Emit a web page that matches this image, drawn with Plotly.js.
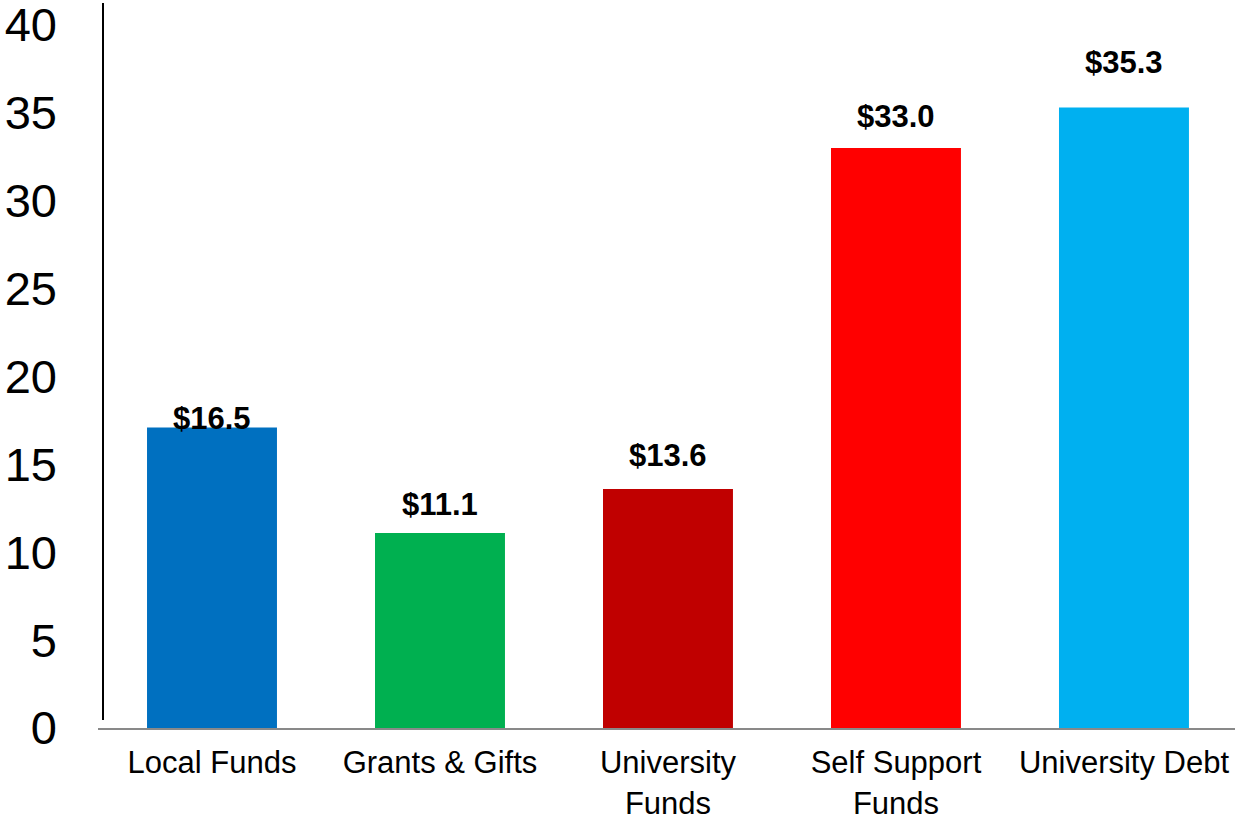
<!DOCTYPE html>
<html>
<head>
<meta charset="utf-8">
<script src="https://cdn.plot.ly/plotly-3.0.1.min.js"></script>
<style>
  html, body { margin: 0; padding: 0; background: #ffffff; }
  #chart { width: 1235px; height: 821px; }
</style>
</head>
<body>
<div id="chart"></div>
<script>
// Data
const categories = ["Local Funds", "Grants & Gifts", "University<br>Funds", "Self Support<br>Funds", "University Debt"];
const barValues = [17.1, 11.1, 13.6, 33.0, 35.3];
const valueLabels = ["$16.5", "$11.1", "$13.6", "$33.0", "$35.3"];
const barColors = ["#0070C0", "#00B050", "#C00000", "#FF0000", "#00B0F0"];
const yTickValues = [0, 5, 10, 15, 20, 25, 30, 35, 40];

// Label pixel offsets above each bar top (styling, as in the reference)
const labelShift = [9, 28, 33, 32, 45];

const trace = {
  type: "bar",
  x: categories,
  y: barValues,
  marker: { color: barColors, line: { width: 0 } },
  hoverinfo: "none",
  showlegend: false
};

const annotations = categories.map((c, i) => ({
  x: c,
  y: barValues[i],
  xref: "x",
  yref: "y",
  text: valueLabels[i],
  showarrow: false,
  yanchor: "middle",
  yshift: labelShift[i],
  font: { family: "Liberation Sans, Arial, sans-serif", size: 31, color: "#000000", weight: "bold" }
}));

const layout = {
  width: 1235,
  height: 821,
  margin: { l: 98, r: 0, t: 3, b: 92.5, pad: 0 },
  paper_bgcolor: "#ffffff",
  plot_bgcolor: "#ffffff",
  bargap: 0.43,
  font: { family: "Liberation Sans, Arial, sans-serif", color: "#000000" },
  xaxis: {
    type: "category",
    range: [-0.5, 4.487],
    showgrid: false,
    zeroline: false,
    showline: true,
    linecolor: "#898989",
    linewidth: 2,
    ticks: "",
    ticklabelstandoff: 6,
    ticklabeloverflow: "allow",
    tickfont: { size: 31, color: "#000000" },
    fixedrange: true
  },
  yaxis: {
    range: [0, 41.25],
    tickvals: yTickValues,
    ticktext: yTickValues.map(String),
    showgrid: false,
    zeroline: false,
    showline: false,
    ticks: "",
    ticklabelstandoff: 40,
    ticklabeloverflow: "allow",
    tickfont: { size: 47, color: "#000000" },
    fixedrange: true
  },
  shapes: [{
    type: "line",
    xref: "paper",
    yref: "paper",
    x0: 0.0044, x1: 0.0044,
    y0: 0.011, y1: 1,
    line: { color: "#000000", width: 2 }
  }],
  annotations: annotations
};

Plotly.newPlot("chart", [trace], layout, { displayModeBar: false, staticPlot: true });
</script>
</body>
</html>
